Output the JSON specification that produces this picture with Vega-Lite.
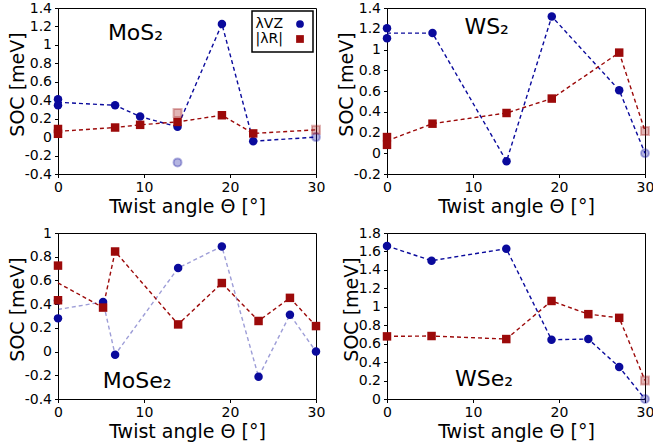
{
  "$schema": "https://vega.github.io/schema/vega-lite/v6.json",
  "background": "white",
  "padding": {"left": 7, "top": 0, "right": 5, "bottom": 5},
  "columns": 2,
  "spacing": {"row": 8, "column": 10},
  "resolve": {"scale": {"color": "independent", "shape": "independent"}, "legend": {"color": "independent", "shape": "independent"}},
  "datasets": {
    "d": [
      {"p": "MoS2", "s": "λVZ", "k": "pt", "a": 0, "v": 0.41},
      {"p": "MoS2", "s": "λVZ", "k": "pt", "a": 0, "v": 0.345},
      {"p": "MoS2", "s": "λVZ", "k": "pt", "a": 6.64, "v": 0.345},
      {"p": "MoS2", "s": "λVZ", "k": "pt", "a": 9.55, "v": 0.223},
      {"p": "MoS2", "s": "λVZ", "k": "pt", "a": 13.9, "v": 0.111},
      {"p": "MoS2", "s": "λVZ", "k": "pt", "a": 19.06, "v": 1.227},
      {"p": "MoS2", "s": "λVZ", "k": "pt", "a": 22.7, "v": -0.044},
      {"p": "MoS2", "s": "|λR|", "k": "pt", "a": 0, "v": 0.088},
      {"p": "MoS2", "s": "|λR|", "k": "pt", "a": 0, "v": 0.036},
      {"p": "MoS2", "s": "|λR|", "k": "pt", "a": 6.64, "v": 0.104},
      {"p": "MoS2", "s": "|λR|", "k": "pt", "a": 9.55, "v": 0.133},
      {"p": "MoS2", "s": "|λR|", "k": "pt", "a": 13.9, "v": 0.165},
      {"p": "MoS2", "s": "|λR|", "k": "pt", "a": 19.06, "v": 0.237},
      {"p": "MoS2", "s": "|λR|", "k": "pt", "a": 22.7, "v": 0.04},
      {"p": "MoS2", "s": "λVZ", "k": "fd", "a": 13.9, "v": -0.274},
      {"p": "MoS2", "s": "λVZ", "k": "fd", "a": 30, "v": 0},
      {"p": "MoS2", "s": "|λR|", "k": "fd", "a": 13.9, "v": 0.262},
      {"p": "MoS2", "s": "|λR|", "k": "fd", "a": 30, "v": 0.079},
      {"p": "MoS2", "s": "λVZ", "k": "ln", "a": 0, "v": 0.378},
      {"p": "MoS2", "s": "λVZ", "k": "ln", "a": 6.64, "v": 0.345},
      {"p": "MoS2", "s": "λVZ", "k": "ln", "a": 9.55, "v": 0.223},
      {"p": "MoS2", "s": "λVZ", "k": "ln", "a": 13.9, "v": 0.111},
      {"p": "MoS2", "s": "λVZ", "k": "ln", "a": 19.06, "v": 1.227},
      {"p": "MoS2", "s": "λVZ", "k": "ln", "a": 22.7, "v": -0.044},
      {"p": "MoS2", "s": "λVZ", "k": "ln", "a": 30, "v": 0},
      {"p": "MoS2", "s": "|λR|", "k": "ln", "a": 0, "v": 0.062},
      {"p": "MoS2", "s": "|λR|", "k": "ln", "a": 6.64, "v": 0.104},
      {"p": "MoS2", "s": "|λR|", "k": "ln", "a": 9.55, "v": 0.133},
      {"p": "MoS2", "s": "|λR|", "k": "ln", "a": 13.9, "v": 0.165},
      {"p": "MoS2", "s": "|λR|", "k": "ln", "a": 19.06, "v": 0.237},
      {"p": "MoS2", "s": "|λR|", "k": "ln", "a": 22.7, "v": 0.04},
      {"p": "MoS2", "s": "|λR|", "k": "ln", "a": 30, "v": 0.079},

      {"p": "WS2", "s": "λVZ", "k": "pt", "a": 0, "v": 1.206},
      {"p": "WS2", "s": "λVZ", "k": "pt", "a": 0, "v": 1.109},
      {"p": "WS2", "s": "λVZ", "k": "pt", "a": 5.29, "v": 1.158},
      {"p": "WS2", "s": "λVZ", "k": "pt", "a": 13.9, "v": -0.077},
      {"p": "WS2", "s": "λVZ", "k": "pt", "a": 19.16, "v": 1.319},
      {"p": "WS2", "s": "λVZ", "k": "pt", "a": 27, "v": 0.608},
      {"p": "WS2", "s": "|λR|", "k": "pt", "a": 0, "v": 0.156},
      {"p": "WS2", "s": "|λR|", "k": "pt", "a": 0, "v": 0.081},
      {"p": "WS2", "s": "|λR|", "k": "pt", "a": 5.29, "v": 0.285},
      {"p": "WS2", "s": "|λR|", "k": "pt", "a": 13.9, "v": 0.388},
      {"p": "WS2", "s": "|λR|", "k": "pt", "a": 19.16, "v": 0.527},
      {"p": "WS2", "s": "|λR|", "k": "pt", "a": 27, "v": 0.97},
      {"p": "WS2", "s": "λVZ", "k": "fd", "a": 30, "v": 0},
      {"p": "WS2", "s": "|λR|", "k": "fd", "a": 30, "v": 0.214},
      {"p": "WS2", "s": "λVZ", "k": "ln", "a": 0, "v": 1.158},
      {"p": "WS2", "s": "λVZ", "k": "ln", "a": 5.29, "v": 1.158},
      {"p": "WS2", "s": "λVZ", "k": "ln", "a": 13.9, "v": -0.077},
      {"p": "WS2", "s": "λVZ", "k": "ln", "a": 19.16, "v": 1.319},
      {"p": "WS2", "s": "λVZ", "k": "ln", "a": 27, "v": 0.608},
      {"p": "WS2", "s": "λVZ", "k": "ln", "a": 30, "v": 0},
      {"p": "WS2", "s": "|λR|", "k": "ln", "a": 0, "v": 0.12},
      {"p": "WS2", "s": "|λR|", "k": "ln", "a": 5.29, "v": 0.285},
      {"p": "WS2", "s": "|λR|", "k": "ln", "a": 13.9, "v": 0.388},
      {"p": "WS2", "s": "|λR|", "k": "ln", "a": 19.16, "v": 0.527},
      {"p": "WS2", "s": "|λR|", "k": "ln", "a": 27, "v": 0.97},
      {"p": "WS2", "s": "|λR|", "k": "ln", "a": 30, "v": 0.214},

      {"p": "MoSe2", "s": "λVZ", "k": "pt", "a": 0, "v": 0.28},
      {"p": "MoSe2", "s": "λVZ", "k": "pt", "a": 0, "v": 0.43},
      {"p": "MoSe2", "s": "λVZ", "k": "pt", "a": 5.24, "v": 0.419},
      {"p": "MoSe2", "s": "λVZ", "k": "pt", "a": 6.64, "v": -0.026},
      {"p": "MoSe2", "s": "λVZ", "k": "pt", "a": 13.97, "v": 0.705},
      {"p": "MoSe2", "s": "λVZ", "k": "pt", "a": 19.05, "v": 0.887},
      {"p": "MoSe2", "s": "λVZ", "k": "pt", "a": 23.32, "v": -0.213},
      {"p": "MoSe2", "s": "λVZ", "k": "pt", "a": 26.97, "v": 0.311},
      {"p": "MoSe2", "s": "λVZ", "k": "pt", "a": 30, "v": 0},
      {"p": "MoSe2", "s": "|λR|", "k": "pt", "a": 0, "v": 0.725},
      {"p": "MoSe2", "s": "|λR|", "k": "pt", "a": 0, "v": 0.433},
      {"p": "MoSe2", "s": "|λR|", "k": "pt", "a": 5.24, "v": 0.371},
      {"p": "MoSe2", "s": "|λR|", "k": "pt", "a": 6.64, "v": 0.844},
      {"p": "MoSe2", "s": "|λR|", "k": "pt", "a": 13.97, "v": 0.229},
      {"p": "MoSe2", "s": "|λR|", "k": "pt", "a": 19.05, "v": 0.578},
      {"p": "MoSe2", "s": "|λR|", "k": "pt", "a": 23.32, "v": 0.258},
      {"p": "MoSe2", "s": "|λR|", "k": "pt", "a": 26.97, "v": 0.453},
      {"p": "MoSe2", "s": "|λR|", "k": "pt", "a": 30, "v": 0.215},
      {"p": "MoSe2", "s": "λVZ", "k": "ln", "a": 0, "v": 0.355},
      {"p": "MoSe2", "s": "λVZ", "k": "ln", "a": 5.24, "v": 0.419},
      {"p": "MoSe2", "s": "λVZ", "k": "ln", "a": 6.64, "v": -0.026},
      {"p": "MoSe2", "s": "λVZ", "k": "ln", "a": 13.97, "v": 0.705},
      {"p": "MoSe2", "s": "λVZ", "k": "ln", "a": 19.05, "v": 0.887},
      {"p": "MoSe2", "s": "λVZ", "k": "ln", "a": 23.32, "v": -0.213},
      {"p": "MoSe2", "s": "λVZ", "k": "ln", "a": 26.97, "v": 0.311},
      {"p": "MoSe2", "s": "λVZ", "k": "ln", "a": 30, "v": 0},
      {"p": "MoSe2", "s": "|λR|", "k": "ln", "a": 0, "v": 0.579},
      {"p": "MoSe2", "s": "|λR|", "k": "ln", "a": 5.24, "v": 0.371},
      {"p": "MoSe2", "s": "|λR|", "k": "ln", "a": 6.64, "v": 0.844},
      {"p": "MoSe2", "s": "|λR|", "k": "ln", "a": 13.97, "v": 0.229},
      {"p": "MoSe2", "s": "|λR|", "k": "ln", "a": 19.05, "v": 0.578},
      {"p": "MoSe2", "s": "|λR|", "k": "ln", "a": 23.32, "v": 0.258},
      {"p": "MoSe2", "s": "|λR|", "k": "ln", "a": 26.97, "v": 0.453},
      {"p": "MoSe2", "s": "|λR|", "k": "ln", "a": 30, "v": 0.215},

      {"p": "WSe2", "s": "λVZ", "k": "pt", "a": 0, "v": 1.66},
      {"p": "WSe2", "s": "λVZ", "k": "pt", "a": 5.18, "v": 1.5},
      {"p": "WSe2", "s": "λVZ", "k": "pt", "a": 13.87, "v": 1.63},
      {"p": "WSe2", "s": "λVZ", "k": "pt", "a": 19.13, "v": 0.643},
      {"p": "WSe2", "s": "λVZ", "k": "pt", "a": 23.41, "v": 0.65},
      {"p": "WSe2", "s": "λVZ", "k": "pt", "a": 27, "v": 0.347},
      {"p": "WSe2", "s": "|λR|", "k": "pt", "a": 0, "v": 0.679},
      {"p": "WSe2", "s": "|λR|", "k": "pt", "a": 5.18, "v": 0.683},
      {"p": "WSe2", "s": "|λR|", "k": "pt", "a": 13.87, "v": 0.65},
      {"p": "WSe2", "s": "|λR|", "k": "pt", "a": 19.13, "v": 1.063},
      {"p": "WSe2", "s": "|λR|", "k": "pt", "a": 23.41, "v": 0.92},
      {"p": "WSe2", "s": "|λR|", "k": "pt", "a": 27, "v": 0.88},
      {"p": "WSe2", "s": "λVZ", "k": "fd", "a": 30, "v": 0},
      {"p": "WSe2", "s": "|λR|", "k": "fd", "a": 30, "v": 0.2},
      {"p": "WSe2", "s": "λVZ", "k": "ln", "a": 0, "v": 1.66},
      {"p": "WSe2", "s": "λVZ", "k": "ln", "a": 5.18, "v": 1.5},
      {"p": "WSe2", "s": "λVZ", "k": "ln", "a": 13.87, "v": 1.63},
      {"p": "WSe2", "s": "λVZ", "k": "ln", "a": 19.13, "v": 0.643},
      {"p": "WSe2", "s": "λVZ", "k": "ln", "a": 23.41, "v": 0.65},
      {"p": "WSe2", "s": "λVZ", "k": "ln", "a": 27, "v": 0.347},
      {"p": "WSe2", "s": "λVZ", "k": "ln", "a": 30, "v": 0},
      {"p": "WSe2", "s": "|λR|", "k": "ln", "a": 0, "v": 0.679},
      {"p": "WSe2", "s": "|λR|", "k": "ln", "a": 5.18, "v": 0.683},
      {"p": "WSe2", "s": "|λR|", "k": "ln", "a": 13.87, "v": 0.65},
      {"p": "WSe2", "s": "|λR|", "k": "ln", "a": 19.13, "v": 1.063},
      {"p": "WSe2", "s": "|λR|", "k": "ln", "a": 23.41, "v": 0.92},
      {"p": "WSe2", "s": "|λR|", "k": "ln", "a": 27, "v": 0.88},
      {"p": "WSe2", "s": "|λR|", "k": "ln", "a": 30, "v": 0.2}
    ]
  },
  "concat": [
    {
      "width": 258, "height": 166,
      "data": {"name": "d"},
      "transform": [{"filter": "datum.p === 'MoS2'"}],
      "encoding": {
        "x": {"field": "a", "type": "quantitative", "scale": {"domain": [0, 30], "nice": false}, "axis": {"values": [0, 10, 20, 30], "title": "Twist angle Θ [°]"}},
        "y": {"field": "v", "type": "quantitative", "scale": {"domain": [-0.4, 1.4], "nice": false}, "axis": {"values": [-0.4, -0.2, 0, 0.2, 0.4, 0.6, 0.8, 1, 1.2, 1.4], "title": "SOC [meV]"}}
      },
      "layer": [
        {"transform": [{"filter": "datum.k === 'ln' && datum.s === 'λVZ'"}], "mark": {"type": "line", "color": "#0a0a9c", "strokeWidth": 1.4, "strokeDash": [4, 3]}},
        {"transform": [{"filter": "datum.k === 'ln' && datum.s === '|λR|'"}], "mark": {"type": "line", "color": "#9c0a0a", "strokeWidth": 1.4, "strokeDash": [4, 3]}},
        {"transform": [{"filter": "datum.k === 'fd' && datum.s === 'λVZ'"}], "mark": {"type": "point", "shape": "circle", "size": 64, "fill": "#0a0a9c", "stroke": "#0a0a9c", "fillOpacity": 0.3, "strokeOpacity": 0.3, "strokeWidth": 2}},
        {"transform": [{"filter": "datum.k === 'fd' && datum.s === '|λR|'"}], "mark": {"type": "point", "shape": "square", "size": 64, "fill": "#9c0a0a", "stroke": "#9c0a0a", "fillOpacity": 0.3, "strokeOpacity": 0.3, "strokeWidth": 2}},
        {"transform": [{"filter": "datum.k === 'pt'"}], "mark": {"type": "point", "filled": true, "size": 72, "opacity": 1},
         "encoding": {
           "color": {"field": "s", "type": "nominal", "scale": {"domain": ["λVZ", "|λR|"], "range": ["#0a0a9c", "#9c0a0a"]}, "legend": {"title": null, "orient": "top-right"}},
           "shape": {"field": "s", "type": "nominal", "scale": {"domain": ["λVZ", "|λR|"], "range": ["circle", "square"]}, "legend": {"title": null, "orient": "top-right"}}
         }},
        {"transform": [{"filter": "datum.k === 'ln' && datum.s === 'λVZ' && datum.a === 0"}], "mark": {"type": "text", "align": "left", "baseline": "alphabetic", "font": "DejaVu Sans", "fontSize": 22, "color": "black"},
         "encoding": {"x": {"datum": 5.8}, "y": {"datum": 1.05}, "text": {"value": "MoS₂"}}}
      ]
    },
    {
      "width": 258, "height": 166,
      "data": {"name": "d"},
      "transform": [{"filter": "datum.p === 'WS2'"}],
      "encoding": {
        "x": {"field": "a", "type": "quantitative", "scale": {"domain": [0, 30], "nice": false}, "axis": {"values": [0, 10, 20, 30], "title": "Twist angle Θ [°]"}},
        "y": {"field": "v", "type": "quantitative", "scale": {"domain": [-0.2, 1.4], "nice": false}, "axis": {"values": [-0.2, 0, 0.2, 0.4, 0.6, 0.8, 1, 1.2, 1.4], "title": "SOC [meV]"}}
      },
      "layer": [
        {"transform": [{"filter": "datum.k === 'ln' && datum.s === 'λVZ'"}], "mark": {"type": "line", "color": "#0a0a9c", "strokeWidth": 1.4, "strokeDash": [4, 3]}},
        {"transform": [{"filter": "datum.k === 'ln' && datum.s === '|λR|'"}], "mark": {"type": "line", "color": "#9c0a0a", "strokeWidth": 1.4, "strokeDash": [4, 3]}},
        {"transform": [{"filter": "datum.k === 'fd' && datum.s === 'λVZ'"}], "mark": {"type": "point", "shape": "circle", "size": 64, "fill": "#0a0a9c", "stroke": "#0a0a9c", "fillOpacity": 0.3, "strokeOpacity": 0.3, "strokeWidth": 2}},
        {"transform": [{"filter": "datum.k === 'fd' && datum.s === '|λR|'"}], "mark": {"type": "point", "shape": "square", "size": 64, "fill": "#9c0a0a", "stroke": "#9c0a0a", "fillOpacity": 0.3, "strokeOpacity": 0.3, "strokeWidth": 2}},
        {"transform": [{"filter": "datum.k === 'pt'"}], "mark": {"type": "point", "filled": true, "size": 72, "opacity": 1},
         "encoding": {
           "color": {"field": "s", "type": "nominal", "scale": {"domain": ["λVZ", "|λR|"], "range": ["#0a0a9c", "#9c0a0a"]}, "legend": null},
           "shape": {"field": "s", "type": "nominal", "scale": {"domain": ["λVZ", "|λR|"], "range": ["circle", "square"]}, "legend": null}
         }},
        {"transform": [{"filter": "datum.k === 'ln' && datum.s === 'λVZ' && datum.a === 0"}], "mark": {"type": "text", "align": "left", "baseline": "alphabetic", "font": "DejaVu Sans", "fontSize": 22, "color": "black"},
         "encoding": {"x": {"datum": 9.0}, "y": {"datum": 1.15}, "text": {"value": "WS₂"}}}
      ]
    },
    {
      "width": 258, "height": 166,
      "data": {"name": "d"},
      "transform": [{"filter": "datum.p === 'MoSe2'"}],
      "encoding": {
        "x": {"field": "a", "type": "quantitative", "scale": {"domain": [0, 30], "nice": false}, "axis": {"values": [0, 10, 20, 30], "title": "Twist angle Θ [°]"}},
        "y": {"field": "v", "type": "quantitative", "scale": {"domain": [-0.4, 1], "nice": false}, "axis": {"values": [-0.4, -0.2, 0, 0.2, 0.4, 0.6, 0.8, 1], "title": "SOC [meV]"}}
      },
      "layer": [
        {"transform": [{"filter": "datum.k === 'ln' && datum.s === 'λVZ'"}], "mark": {"type": "line", "color": "#0a0a9c", "opacity": 0.4, "strokeWidth": 1.4, "strokeDash": [4, 3]}},
        {"transform": [{"filter": "datum.k === 'ln' && datum.s === '|λR|'"}], "mark": {"type": "line", "color": "#9c0a0a", "strokeWidth": 1.4, "strokeDash": [4, 3]}},
        {"transform": [{"filter": "datum.k === 'pt'"}], "mark": {"type": "point", "filled": true, "size": 72, "opacity": 1},
         "encoding": {
           "color": {"field": "s", "type": "nominal", "scale": {"domain": ["λVZ", "|λR|"], "range": ["#0a0a9c", "#9c0a0a"]}, "legend": null},
           "shape": {"field": "s", "type": "nominal", "scale": {"domain": ["λVZ", "|λR|"], "range": ["circle", "square"]}, "legend": null}
         }},
        {"transform": [{"filter": "datum.k === 'ln' && datum.s === 'λVZ' && datum.a === 0"}], "mark": {"type": "text", "align": "left", "baseline": "alphabetic", "font": "DejaVu Sans", "fontSize": 22, "color": "black"},
         "encoding": {"x": {"datum": 5.2}, "y": {"datum": -0.31}, "text": {"value": "MoSe₂"}}}
      ]
    },
    {
      "width": 258, "height": 166,
      "data": {"name": "d"},
      "transform": [{"filter": "datum.p === 'WSe2'"}],
      "encoding": {
        "x": {"field": "a", "type": "quantitative", "scale": {"domain": [0, 30], "nice": false}, "axis": {"values": [0, 10, 20, 30], "title": "Twist angle Θ [°]"}},
        "y": {"field": "v", "type": "quantitative", "scale": {"domain": [0, 1.8], "nice": false}, "axis": {"values": [0, 0.2, 0.4, 0.6, 0.8, 1, 1.2, 1.4, 1.6, 1.8], "title": "SOC [meV]"}}
      },
      "layer": [
        {"transform": [{"filter": "datum.k === 'ln' && datum.s === 'λVZ'"}], "mark": {"type": "line", "color": "#0a0a9c", "strokeWidth": 1.4, "strokeDash": [4, 3]}},
        {"transform": [{"filter": "datum.k === 'ln' && datum.s === '|λR|'"}], "mark": {"type": "line", "color": "#9c0a0a", "strokeWidth": 1.4, "strokeDash": [4, 3]}},
        {"transform": [{"filter": "datum.k === 'fd' && datum.s === 'λVZ'"}], "mark": {"type": "point", "shape": "circle", "size": 64, "fill": "#0a0a9c", "stroke": "#0a0a9c", "fillOpacity": 0.3, "strokeOpacity": 0.3, "strokeWidth": 2}},
        {"transform": [{"filter": "datum.k === 'fd' && datum.s === '|λR|'"}], "mark": {"type": "point", "shape": "square", "size": 64, "fill": "#9c0a0a", "stroke": "#9c0a0a", "fillOpacity": 0.3, "strokeOpacity": 0.3, "strokeWidth": 2}},
        {"transform": [{"filter": "datum.k === 'pt'"}], "mark": {"type": "point", "filled": true, "size": 72, "opacity": 1},
         "encoding": {
           "color": {"field": "s", "type": "nominal", "scale": {"domain": ["λVZ", "|λR|"], "range": ["#0a0a9c", "#9c0a0a"]}, "legend": null},
           "shape": {"field": "s", "type": "nominal", "scale": {"domain": ["λVZ", "|λR|"], "range": ["circle", "square"]}, "legend": null}
         }},
        {"transform": [{"filter": "datum.k === 'ln' && datum.s === 'λVZ' && datum.a === 0"}], "mark": {"type": "text", "align": "left", "baseline": "alphabetic", "font": "DejaVu Sans", "fontSize": 22, "color": "black"},
         "encoding": {"x": {"datum": 7.9}, "y": {"datum": 0.14}, "text": {"value": "WSe₂"}}}
      ]
    }
  ],
  "config": {
    "view": {"stroke": "black", "strokeWidth": 1},
    "font": "DejaVu Sans",
    "axis": {
      "grid": false,
      "domainColor": "black",
      "domainWidth": 1,
      "tickColor": "black",
      "tickSize": 3.5,
      "tickWidth": 1,
      "labelColor": "black",
      "titleColor": "black",
      "labelFont": "DejaVu Sans",
      "titleFont": "DejaVu Sans",
      "labelFontSize": 14,
      "titleFontSize": 19,
      "titleFontWeight": "normal",
      "labelPadding": 3,
      "labelOverlap": false,
      "labelFlush": false,
      "labelExpr": "'' + datum.value"
    },
    "axisY": {"titlePadding": -3, "titleY": 76},
    "axisX": {"titlePadding": 3},
    "legend": {
      "strokeColor": "black",
      "strokeWidth": 1.5,
      "fillColor": "white",
      "padding": 6,
      "offset": 3,
      "labelFont": "DejaVu Sans",
      "labelFontSize": 14,
      "labelColor": "black",
      "symbolSize": 60,
      "symbolOpacity": 1,
      "rowPadding": 1,
      "cornerRadius": 0,
      "labelAlign": "right",
      "labelOffset": -24,
      "symbolOffset": 35
    }
  }
}
